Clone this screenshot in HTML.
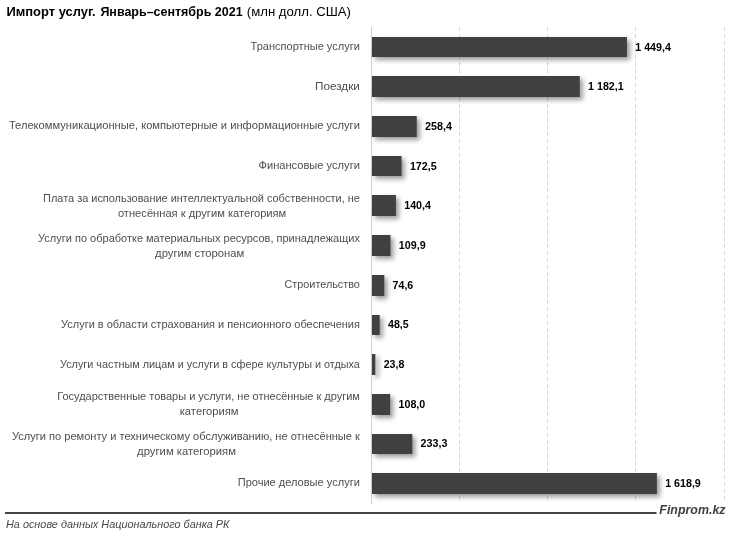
<!DOCTYPE html>
<html lang="ru"><head><meta charset="utf-8"><title>Импорт услуг</title>
<style>html,body{margin:0;padding:0;background:#fff}svg{display:block}text{font-family:"Liberation Sans",sans-serif}.l{font-size:11.3px;fill:#4e4e4e}.v{font-size:10.6px;font-weight:bold;fill:#000}</style></head><body>
<svg width="731" height="536" viewBox="0 0 731 536">
<defs><filter id="sh" x="-5%" y="-5%" width="110%" height="110%"><feGaussianBlur in="SourceAlpha" stdDeviation="2.67"/><feOffset dx="2.83" dy="2.83"/><feComponentTransfer><feFuncA type="linear" slope="0.4"/></feComponentTransfer><feMerge><feMergeNode/><feMergeNode in="SourceGraphic"/></feMerge></filter></defs>
<rect width="731" height="536" fill="#fff"/>
<line x1="459.5" y1="27" x2="459.5" y2="503" stroke="#d6d6d6" stroke-width="1" stroke-dasharray="4 3"/>
<line x1="547.5" y1="27" x2="547.5" y2="503" stroke="#d6d6d6" stroke-width="1" stroke-dasharray="4 3"/>
<line x1="635.5" y1="27" x2="635.5" y2="503" stroke="#d6d6d6" stroke-width="1" stroke-dasharray="4 3"/>
<line x1="724.5" y1="27" x2="724.5" y2="503" stroke="#d6d6d6" stroke-width="1" stroke-dasharray="4 3"/>
<line x1="371.5" y1="27" x2="371.5" y2="504" stroke="#d0d0d0" stroke-width="1"/>
<g fill="#404040" filter="url(#sh)"><rect x="372" y="37" width="254.97" height="20"/><rect x="372" y="76" width="207.79" height="21"/><rect x="372" y="116" width="44.76" height="21"/><rect x="372" y="156" width="29.60" height="20"/><rect x="372" y="195" width="23.93" height="21"/><rect x="372" y="235" width="18.55" height="21"/><rect x="372" y="275" width="12.32" height="21"/><rect x="372" y="315" width="7.71" height="20"/><rect x="372" y="354" width="3.35" height="21"/><rect x="372" y="394" width="18.21" height="21"/><rect x="372" y="434" width="40.33" height="20"/><rect x="372" y="473" width="284.89" height="21"/></g>
<text y="16" font-size="13.2" font-weight="bold" fill="#000"><tspan x="6.4" textLength="89.3" lengthAdjust="spacingAndGlyphs">Импорт услуг.</tspan> <tspan x="100.4" textLength="142.2" lengthAdjust="spacingAndGlyphs">Январь–сентябрь 2021</tspan></text>
<text x="246.8" y="16" font-size="13.2" fill="#000" textLength="104.2" lengthAdjust="spacingAndGlyphs">(млн долл. США)</text>
<text class="v" x="635.3" y="50.5" textLength="35.6" lengthAdjust="spacingAndGlyphs">1 449,4</text>
<text class="l" x="250.6" y="50.0" textLength="109.3" lengthAdjust="spacingAndGlyphs">Транспортные услуги</text>
<text class="v" x="588.1" y="90.2" textLength="35.6" lengthAdjust="spacingAndGlyphs">1 182,1</text>
<text class="l" x="315.0" y="89.7" textLength="44.9" lengthAdjust="spacingAndGlyphs">Поездки</text>
<text class="v" x="425.1" y="129.9" textLength="26.8" lengthAdjust="spacingAndGlyphs">258,4</text>
<text class="l" x="8.9" y="128.9" textLength="351.0" lengthAdjust="spacingAndGlyphs">Телекоммуникационные, компьютерные и информационные услуги</text>
<text class="v" x="409.9" y="169.5" textLength="26.8" lengthAdjust="spacingAndGlyphs">172,5</text>
<text class="l" x="258.5" y="169.0" textLength="101.4" lengthAdjust="spacingAndGlyphs">Финансовые услуги</text>
<text class="v" x="404.2" y="209.2" textLength="26.8" lengthAdjust="spacingAndGlyphs">140,4</text>
<text class="l" x="43.1" y="201.9" textLength="316.8" lengthAdjust="spacingAndGlyphs">Плата за использование интеллектуальной собственности, не</text>
<text class="l" x="117.9" y="216.8" textLength="168.4" lengthAdjust="spacingAndGlyphs">отнесённая к другим категориям</text>
<text class="v" x="398.8" y="248.9" textLength="26.8" lengthAdjust="spacingAndGlyphs">109,9</text>
<text class="l" x="38.1" y="241.6" textLength="321.8" lengthAdjust="spacingAndGlyphs">Услуги по обработке материальных ресурсов, принадлежащих</text>
<text class="l" x="155.1" y="256.5" textLength="89.1" lengthAdjust="spacingAndGlyphs">другим сторонам</text>
<text class="v" x="392.6" y="288.5" textLength="20.7" lengthAdjust="spacingAndGlyphs">74,6</text>
<text class="l" x="284.5" y="288.0" textLength="75.4" lengthAdjust="spacingAndGlyphs">Строительство</text>
<text class="v" x="388.0" y="328.2" textLength="20.7" lengthAdjust="spacingAndGlyphs">48,5</text>
<text class="l" x="61.0" y="327.7" textLength="298.9" lengthAdjust="spacingAndGlyphs">Услуги в области страхования и пенсионного обеспечения</text>
<text class="v" x="383.7" y="367.9" textLength="20.7" lengthAdjust="spacingAndGlyphs">23,8</text>
<text class="l" x="60.0" y="368.0" textLength="299.9" lengthAdjust="spacingAndGlyphs">Услуги частным лицам и услуги в сфере культуры и отдыха</text>
<text class="v" x="398.5" y="407.5" textLength="26.8" lengthAdjust="spacingAndGlyphs">108,0</text>
<text class="l" x="57.2" y="400.2" textLength="302.7" lengthAdjust="spacingAndGlyphs">Государственные товары и услуги, не отнесённые к другим</text>
<text class="l" x="179.7" y="415.1" textLength="58.9" lengthAdjust="spacingAndGlyphs">категориям</text>
<text class="v" x="420.6" y="447.2" textLength="26.8" lengthAdjust="spacingAndGlyphs">233,3</text>
<text class="l" x="11.9" y="439.9" textLength="348.0" lengthAdjust="spacingAndGlyphs">Услуги по ремонту и техническому обслуживанию, не отнесённые к</text>
<text class="l" x="137.1" y="454.8" textLength="98.8" lengthAdjust="spacingAndGlyphs">другим категориям</text>
<text class="v" x="665.2" y="486.9" textLength="35.6" lengthAdjust="spacingAndGlyphs">1 618,9</text>
<text class="l" x="237.7" y="486.4" textLength="122.2" lengthAdjust="spacingAndGlyphs">Прочие деловые услуги</text>
<rect x="5" y="512" width="651.5" height="2" fill="#444"/>
<text x="6" y="527.6" font-size="11" font-style="italic" fill="#484848" textLength="223.5" lengthAdjust="spacingAndGlyphs">На основе данных Национального банка РК</text>
<text x="659.3" y="514" font-size="13.2" font-style="italic" font-weight="bold" fill="#404040" textLength="66.2" lengthAdjust="spacingAndGlyphs">Finprom.kz</text>
</svg></body></html>
